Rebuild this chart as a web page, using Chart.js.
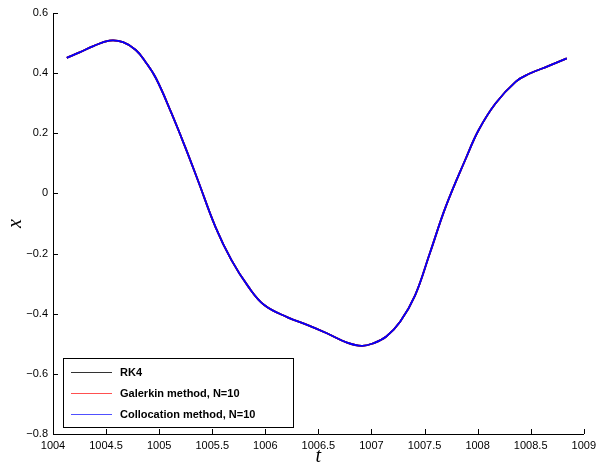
<!DOCTYPE html>
<html>
<head>
<meta charset="utf-8">
<script src="https://cdn.jsdelivr.net/npm/chart.js@4/dist/chart.umd.min.js"></script>
<style>
  html, body { margin: 0; padding: 0; background: #fff; }
  #wrap { width: 601px; height: 470px; }
</style>
</head>
<body>
<div id="wrap"><canvas id="chart" width="601" height="470"></canvas></div>
<script>
  // ── Data (all three solutions coincide) ──
  const tValues = [1004.13, 1004.25, 1004.38, 1004.53, 1004.66, 1004.78, 1004.87, 1004.97,
                   1005.11, 1005.25, 1005.37, 1005.53, 1005.68, 1005.84, 1005.99, 1006.21,
                   1006.40, 1006.58, 1006.77, 1006.91, 1007.02, 1007.14, 1007.27, 1007.41,
                   1007.55, 1007.70, 1007.89, 1008.01, 1008.17, 1008.36, 1008.48, 1008.67,
                   1008.84];
  const xValues = [0.451, 0.469, 0.490, 0.508, 0.503, 0.477, 0.438, 0.383,
                   0.272, 0.150, 0.039, -0.111, -0.221, -0.310, -0.371, -0.412,
                   -0.438, -0.465, -0.496, -0.507, -0.498, -0.476, -0.427, -0.340,
                   -0.199, -0.044, 0.117, 0.211, 0.300, 0.372, 0.397, 0.424,
                   0.449];
  const seriesLabels = ['RK4', 'Galerkin method, N=10', 'Collocation method, N=10'];
  const seriesColors = ['#000000', '#ff0000', '#0000ff'];
  const legendColors = ['#333333', '#ff5050', '#5050ff'];
  const xTicks = [1004, 1004.5, 1005, 1005.5, 1006, 1006.5, 1007, 1007.5, 1008, 1008.5, 1009];
  const yTicks = [-0.8, -0.6, -0.4, -0.2, 0, 0.2, 0.4, 0.6];

  const SANS = "'Liberation Sans', Arial, sans-serif";
  const SERIF = "'Liberation Serif', 'DejaVu Serif', serif";

  const points = tValues.map((t, i) => ({ x: t, y: xValues[i] }));

  // MATLAB-style inward ticks on the left and bottom axes
  const inwardTicks = {
    id: 'inwardTicks',
    afterDatasetsDraw(chart) {
      const { ctx, chartArea: a, scales } = chart;
      const len = 5;
      ctx.save();
      ctx.strokeStyle = '#000';
      ctx.lineWidth = 1;
      ctx.beginPath();
      xTicks.forEach(v => {
        const px = Math.round(scales.x.getPixelForValue(v)) + 0.5;
        ctx.moveTo(px, a.bottom);
        ctx.lineTo(px, a.bottom - len);
      });
      yTicks.forEach(v => {
        const py = Math.round(scales.y.getPixelForValue(v)) + 0.5;
        ctx.moveTo(a.left, py);
        ctx.lineTo(a.left + len, py);
      });
      ctx.stroke();
      ctx.restore();
    }
  };

  // Boxed legend in the lower-left corner of the plot
  const boxLegend = {
    id: 'boxLegend',
    afterDraw(chart) {
      const { ctx, chartArea: a } = chart;
      const w = 230, h = 69;
      const left = Math.round(a.left + 10), top = Math.round(a.bottom - 7 - h);
      ctx.save();
      ctx.fillStyle = '#fff';
      ctx.fillRect(left, top, w, h);
      ctx.strokeStyle = '#000';
      ctx.lineWidth = 1;
      ctx.strokeRect(left + 0.5, top + 0.5, w, h);
      ctx.font = 'bold 11px ' + SANS;
      ctx.textBaseline = 'middle';
      chart.data.datasets.forEach((ds, i) => {
        const y = Math.round(top + 14 + i * 21) + 0.5;
        ctx.strokeStyle = legendColors[i];
        ctx.lineWidth = 1;
        ctx.beginPath();
        ctx.moveTo(left + 8, y);
        ctx.lineTo(left + 49, y);
        ctx.stroke();
        ctx.fillStyle = '#000';
        ctx.fillText(ds.label, left + 57, y);
      });
      ctx.restore();
    }
  };

  const fmt = v => (v < 0 ? '\u2212' + String(Math.abs(v)) : String(v));

  new Chart(document.getElementById('chart'), {
    type: 'line',
    data: {
      datasets: seriesLabels.map((label, i) => ({
        label,
        data: points,
        order: seriesLabels.length - i,   // collocation drawn last (on top)
        borderColor: seriesColors[i],
        borderWidth: 1.8,
        pointRadius: 0,
        fill: false,
        tension: 0.4
      }))
    },
    options: {
      responsive: false,
      animation: false,
      layout: { padding: { left: 0, top: 13, right: 12, bottom: 0 } },
      plugins: {
        legend: { display: false },
        tooltip: { enabled: false }
      },
      scales: {
        x: {
          type: 'linear',
          min: 1004,
          max: 1009,
          afterBuildTicks: s => { s.ticks = xTicks.map(v => ({ value: v })); },
          afterFit: s => { s.height = 36; },
          grid: { display: false, drawTicks: false },
          border: { display: true, color: '#000', width: 1 },
          ticks: {
            padding: 5,
            color: '#000',
            maxRotation: 0,
            autoSkip: false,
            font: { family: SANS, size: 11 },
            callback: v => String(v)
          },
          title: {
            display: true,
            text: 't',
            color: '#000',
            font: { family: SERIF, size: 20, style: 'italic' },
            padding: { top: 0, bottom: 1 }
          }
        },
        y: {
          type: 'linear',
          min: -0.8,
          max: 0.6,
          afterBuildTicks: s => { s.ticks = yTicks.map(v => ({ value: v })); },
          afterFit: s => { s.width = 53; },
          grid: { display: false, drawTicks: false },
          border: { display: true, color: '#000', width: 1 },
          ticks: {
            padding: 5,
            color: '#000',
            autoSkip: false,
            font: { family: SANS, size: 11 },
            callback: v => fmt(Math.round(v * 10) / 10)
          },
          title: {
            display: true,
            text: 'x',
            color: '#000',
            font: { family: SERIF, size: 20, style: 'italic' },
            padding: { top: 4, bottom: 0 }
          }
        }
      }
    },
    plugins: [inwardTicks, boxLegend]
  });
</script>
</body>
</html>
